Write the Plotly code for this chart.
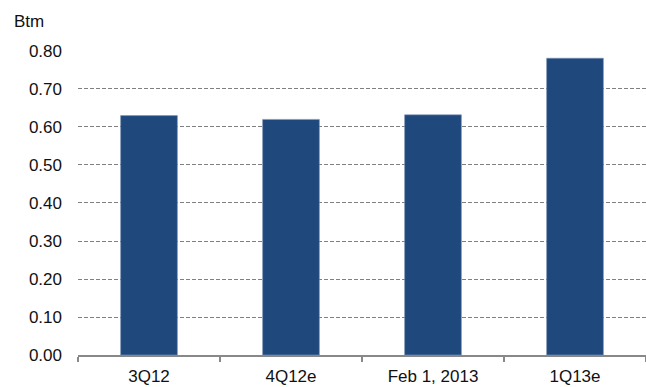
import plotly.graph_objects as go

categories = ["3Q12", "4Q12e", "Feb 1, 2013", "1Q13e"]
values = [0.63, 0.62, 0.632, 0.781]
y_ticks = [0.0, 0.1, 0.2, 0.3, 0.4, 0.5, 0.6, 0.7, 0.8]
y_labels = [f"{v:.2f}" for v in y_ticks]

fig = go.Figure(go.Bar(
    x=categories, y=values, width=0.4,
    marker=dict(color="#1F497D", line=dict(color="#7f96b8", width=0.6)),
))

fig.update_layout(
    width=646, height=387,
    margin=dict(l=78, r=0, t=50, b=32),
    paper_bgcolor="white", plot_bgcolor="white",
    font=dict(family="Liberation Sans, Arial, sans-serif", size=17, color="#111"),
    showlegend=False,
    annotations=[dict(text="Btm", xref="paper", yref="paper", x=-0.0863, y=1.0,
                      xanchor="center", yanchor="middle", yshift=29, showarrow=False,
                      font=dict(size=17, color="#111"))],
)
fig.update_xaxes(
    type="category", showline=True, linecolor="#888", linewidth=1.5,
    ticks="outside", tickson="boundaries", ticklen=5, tickcolor="#888", tickwidth=1.5,
    showgrid=False, tickfont=dict(size=17), ticklabelstandoff=5,
)
fig.update_yaxes(
    range=[0, 0.8026], tickvals=y_ticks, ticktext=y_labels,
    showgrid=True, gridcolor="#808080", griddash="4px,2px", gridwidth=1.2,
    zeroline=False, showline=False, ticks="", ticklabelstandoff=15,
    tickfont=dict(size=17),
)

fig.write_html("out.html")
